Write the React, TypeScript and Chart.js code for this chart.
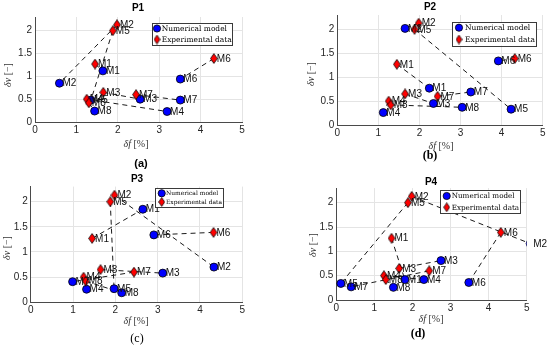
import { useEffect, useRef } from "react";
import { Chart, registerables } from "chart.js";
Chart.register(...registerables);

// ---------- data ----------
const pointNames = ["M1", "M2", "M3", "M4", "M5", "M6", "M7", "M8"];
const expX = [1.45, 1.98, 1.65, 1.25, 1.88, 4.32, 2.44, 1.3];
const expY = [1.27, 2.13, 0.65, 0.5, 2.0, 1.39, 0.6, 0.42];
const p1NumX = [1.64, 0.59, 2.54, 3.19, 1.35, 3.51, 3.51, 1.44];
const p1NumY = [1.12, 0.85, 0.5, 0.23, 0.48, 0.94, 0.48, 0.24];
const p2NumX = [2.24, 1.65, 2.34, 1.12, 4.23, 3.92, 3.25, 3.04];
const p2NumY = [0.77, 2.02, 0.45, 0.26, 0.33, 1.34, 0.69, 0.37];
const p3NumX = [2.65, 4.33, 3.12, 1.32, 1.97, 2.91, 0.99, 2.15];
const p3NumY = [1.85, 0.7, 0.58, 0.26, 0.27, 1.34, 0.41, 0.19];
const p4NumX = [1.8, 5.09, 2.75, 2.3, 0.12, 3.48, 0.39, 1.5];
const p4NumY = [0.42, 1.16, 0.81, 0.42, 0.34, 0.36, 0.27, 0.26];
const xTicks = [0, 1, 2, 3, 4, 5];
const yTicks = [0, 0.5, 1, 1.5, 2];
const xRange = [0, 5];
const yRange = [0, 2.3];
const panelTitles = ["P1", "P2", "P3", "P4"];
const captions = ["(a)", "(b)", "(c)", "(d)"];
const legendLabels = ["Numerical model", "Experimental data"];

// ---------- layout (positions/styles) ----------
const W = 550;
const H = 347;
const Y_AXIS_W = 25;
const X_AXIS_H = 20;

type Panel = {
  area: { l: number; r: number; t: number; b: number };
  title: [number, number];
  xt: [number, number];
  yt: [number, number];
  cap: [number, number, string];
  lg: { x: number; y: number; w: number; h: number; r1: number; r2: number; mx: number; tx: number; textW: number };
  numX: number[];
  numY: number[];
};

const panels: Panel[] = [
  {
    area: { l: 35, r: 242, t: 17, b: 122 },
    title: [138, 8],
    xt: [136, 144],
    yt: [8, 75],
    cap: [141, 164, 'bold 11px "Liberation Sans"'],
    lg: { x: 152, y: 23, w: 80, h: 22, r1: 5.5, r2: 16.5, mx: 5, tx: 9.7, textW: 70 },
    numX: p1NumX,
    numY: p1NumY,
  },
  {
    area: { l: 337.3, r: 542.7, t: 15, b: 125 },
    title: [430, 7],
    xt: [441, 146],
    yt: [311, 74],
    cap: [430, 156, 'bold 12px "Liberation Serif"'],
    lg: { x: 452, y: 22, w: 84, h: 23.5, r1: 5.7, r2: 17.5, mx: 7, tx: 13, textW: 70 },
    numX: p2NumX,
    numY: p2NumY,
  },
  {
    area: { l: 30.7, r: 242.3, t: 186.6, b: 302.3 },
    title: [137, 179],
    xt: [136, 321],
    yt: [7, 248],
    cap: [137, 339, '12px "Liberation Serif"'],
    lg: { x: 155, y: 188, w: 68, h: 19, r1: 5.3, r2: 14, mx: 6.7, tx: 11, textW: 56 },
    numX: p3NumX,
    numY: p3NumY,
  },
  {
    area: { l: 336.3, r: 526.7, t: 188.1, b: 300 },
    title: [431, 182],
    xt: [431, 319],
    yt: [313, 245],
    cap: [418, 334, 'bold 12px "Liberation Serif"'],
    lg: { x: 440, y: 190, w: 80, h: 23, r1: 6, r2: 17.3, mx: 6.7, tx: 11.7, textW: 67.6 },
    numX: p4NumX,
    numY: p4NumY,
  },
];

function makeDiamond(w: number, h: number) {
  const c = document.createElement("canvas");
  c.width = w;
  c.height = h;
  const g = c.getContext("2d")!;
  g.beginPath();
  g.moveTo(w / 2, 0.6);
  g.lineTo(w - 0.6, h / 2);
  g.lineTo(w / 2, h - 0.6);
  g.lineTo(0.6, h / 2);
  g.closePath();
  g.fillStyle = "#ff0000";
  g.fill();
  g.strokeStyle = "#000";
  g.lineWidth = 0.8;
  g.stroke();
  return c;
}

function drawParts(ctx: CanvasRenderingContext2D, parts: { t: string; it: boolean }[], cx: number, cy: number, size: number) {
  const fam = '"Liberation Serif"';
  let total = 0;
  const widths = parts.map((p) => {
    ctx.font = `${p.it ? "italic " : ""}${size}px ${fam}`;
    const w = ctx.measureText(p.t).width;
    total += w;
    return w;
  });
  let x = cx - total / 2;
  parts.forEach((p, i) => {
    ctx.font = `${p.it ? "italic " : ""}${size}px ${fam}`;
    ctx.fillText(p.t, x, cy);
    x += widths[i];
  });
}

function makeDecor(p: Panel, idx: number, diamondSmall: HTMLCanvasElement) {
  return {
    id: "decor" + idx,
    afterDraw(chart: any) {
      const ctx: CanvasRenderingContext2D = chart.ctx;
      ctx.save();
      // point labels
      ctx.font = '10px "Liberation Sans"';
      ctx.fillStyle = "#111";
      ctx.textAlign = "left";
      ctx.textBaseline = "middle";
      [1, 0].forEach((d) => {
        const meta = chart.getDatasetMeta(d);
        meta.data.forEach((el: any, i: number) => {
          ctx.fillText(pointNames[i], el.x + 3, el.y + 0.5);
        });
      });
      // title
      ctx.font = 'bold 10px "Liberation Sans"';
      ctx.fillStyle = "#000";
      ctx.textAlign = "center";
      ctx.fillText(panelTitles[idx], p.title[0], p.title[1]);
      // axis titles
      ctx.fillStyle = "#333";
      ctx.textAlign = "left";
      drawParts(ctx, [{ t: "δ", it: true }, { t: "f", it: true }, { t: " [%]", it: false }], p.xt[0], p.xt[1], 10);
      ctx.save();
      ctx.translate(p.yt[0], p.yt[1]);
      ctx.rotate(-Math.PI / 2);
      drawParts(ctx, [{ t: "δ", it: true }, { t: "v", it: true }, { t: " [−]", it: false }], 0, 0, 10);
      ctx.restore();
      // caption
      ctx.fillStyle = "#000";
      ctx.textAlign = "center";
      ctx.font = p.cap[2];
      ctx.fillText(captions[idx], p.cap[0], p.cap[1]);
      // legend
      const lg = p.lg;
      ctx.fillStyle = "#fff";
      ctx.fillRect(lg.x, lg.y, lg.w, lg.h);
      ctx.strokeStyle = "#3a3a3a";
      ctx.lineWidth = 1;
      ctx.strokeRect(Math.round(lg.x) + 0.5, Math.round(lg.y) + 0.5, Math.round(lg.w), Math.round(lg.h));
      ctx.font = '10px "DejaVu Serif"';
      const w10 = ctx.measureText(legendLabels[1]).width;
      const fs = (10 * lg.textW) / w10;
      ctx.font = `${fs}px "DejaVu Serif"`;
      ctx.textAlign = "left";
      ctx.beginPath();
      ctx.arc(lg.x + lg.mx, lg.y + lg.r1, 3.6, 0, Math.PI * 2);
      ctx.fillStyle = "#0000ff";
      ctx.fill();
      ctx.strokeStyle = "#000";
      ctx.lineWidth = 0.8;
      ctx.stroke();
      ctx.drawImage(diamondSmall, lg.x + lg.mx - diamondSmall.width / 2, lg.y + lg.r2 - diamondSmall.height / 2);
      ctx.fillStyle = "#000";
      ctx.fillText(legendLabels[0], lg.x + lg.tx, lg.y + lg.r1 + 0.5);
      ctx.fillText(legendLabels[1], lg.x + lg.tx, lg.y + lg.r2 + 0.5);
      ctx.restore();
    },
  };
}

function PanelChart({ idx }: { idx: number }) {
  const ref = useRef<HTMLCanvasElement>(null);
  useEffect(() => {
    const p = panels[idx];
    const diamond = makeDiamond(8, 11);
    const diamondSmall = makeDiamond(7, 10);
    const lineSets = pointNames.map((_, i) => ({
      data: [
        { x: expX[i], y: expY[i] },
        { x: p.numX[i], y: p.numY[i] },
      ],
      showLine: true,
      borderColor: "#1a1a1a",
      borderWidth: 1,
      borderDash: [5, 4],
      pointRadius: 0,
      clip: 0,
      order: 2,
    }));
    const chart = new Chart(ref.current!, {
      type: "scatter",
      data: {
        datasets: [
          {
            data: expX.map((x, i) => ({ x, y: expY[i] })),
            pointStyle: diamond as any,
            pointRadius: 5,
            order: 0,
          },
          {
            data: p.numX.map((x, i) => ({ x, y: p.numY[i] })),
            pointStyle: "circle",
            pointRadius: 4,
            backgroundColor: "#0000ff",
            borderColor: "#000",
            borderWidth: 0.8,
            clip: { left: 5, top: 5, bottom: 5, right: 0 },
            order: 1,
          },
          ...lineSets,
        ] as any,
      },
      options: {
        animation: false,
        responsive: false,
        events: [],
        layout: {
          padding: {
            left: p.area.l - Y_AXIS_W,
            right: W - p.area.r,
            top: p.area.t,
            bottom: H - p.area.b - X_AXIS_H,
          },
        },
        plugins: { legend: { display: false }, tooltip: { enabled: false } },
        scales: {
          x: {
            type: "linear",
            min: xRange[0],
            max: xRange[1],
            afterBuildTicks: (s: any) => {
              s.ticks = xTicks.map((v) => ({ value: v }));
            },
            afterFit: (s: any) => {
              s.height = X_AXIS_H;
              s.paddingLeft = 0;
              s.paddingRight = 0;
            },
            grid: { color: "#e4e4e4", drawTicks: false },
            border: { color: "#4a4a4a", width: 1 },
            ticks: {
              padding: 2,
              autoSkip: false,
              maxRotation: 0,
              color: "#262626",
              font: { family: "Liberation Sans", size: 10 },
              callback: (v: any) => String(v),
            },
          },
          y: {
            type: "linear",
            min: yRange[0],
            max: yRange[1],
            afterBuildTicks: (s: any) => {
              s.ticks = yTicks.map((v) => ({ value: v }));
            },
            afterFit: (s: any) => {
              s.width = Y_AXIS_W;
              s.paddingTop = 0;
              s.paddingBottom = 0;
            },
            grid: { color: "#e4e4e4", drawTicks: false },
            border: { color: "#4a4a4a", width: 1 },
            ticks: {
              padding: 3,
              autoSkip: false,
              color: "#262626",
              font: { family: "Liberation Sans", size: 10 },
              callback: (v: any) => String(v),
            },
          },
        },
      } as any,
      plugins: [makeDecor(p, idx, diamondSmall)],
    });
    return () => chart.destroy();
  }, [idx]);
  return (
    <canvas
      ref={ref}
      width={W}
      height={H}
      style={{ position: "absolute", left: 0, top: 0, width: W, height: H }}
    />
  );
}

export default function App() {
  return (
    <div style={{ position: "absolute", left: 0, top: 0, width: W, height: H, background: "#fff" }}>
      {panels.map((_, i) => (
        <PanelChart key={i} idx={i} />
      ))}
    </div>
  );
}
